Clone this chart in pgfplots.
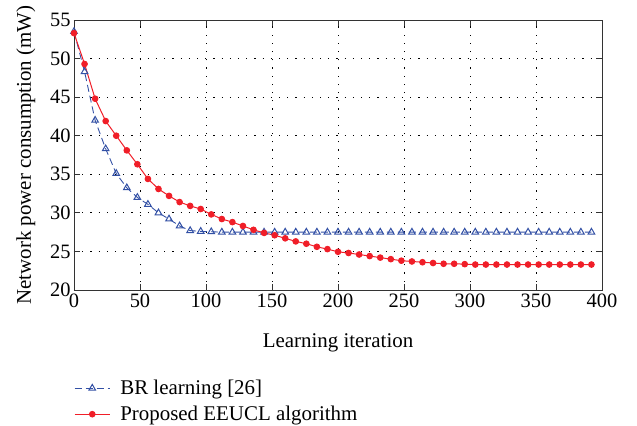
\documentclass[border=0pt]{standalone}
\usepackage{fontspec}
\setmainfont{LiberationSerif}[Extension=.ttf, UprightFont=*-Regular, BoldFont=*-Bold, ItalicFont=*-Italic]
\newfontfamily\tickfont{LiberationSerif}[Extension=.ttf, UprightFont=*-Regular]
\usepackage{pgfplots}
\pgfplotsset{compat=1.18}
\definecolor{brblue}{RGB}{50,80,165}
\definecolor{eered}{RGB}{240,30,40}
\begin{document}
\begin{tikzpicture}[x=1bp,y=1bp]
\begin{axis}[
  at={(0bp,0bp)}, anchor=south west,
  width=528bp, height=270bp, scale only axis,
  xmin=0, xmax=400, ymin=20, ymax=55,
  xtick={0,50,100,150,200,250,300,350,400}, ytick={20,25,30,35,40,45,50,55},
  xticklabels={0,50,100,150,200,250,300,350,400},
  yticklabels={20,25,30,35,40,45,50,55},
  tick align=inside, tick pos=both,
  major tick length=6bp,
  grid=major,
  grid style={black, line width=1pt, dash pattern=on 1.2bp off 7bp},
  axis line style={black!80, line width=0.8pt},
  every tick/.style={black!80, line width=0.8pt},
  xticklabel style={font=\tickfont\fontsize{20.5}{23}\selectfont},
  yticklabel style={font=\tickfont\fontsize{20.5}{23}\selectfont},
  xlabel={Learning iteration},
  ylabel={Network power consumption (mW)},
  label style={font=\fontsize{21}{24}\selectfont},
  xlabel style={yshift=-20bp},
  ylabel style={yshift=8bp},
  legend style={at={(0,0)}, anchor=north west, yshift=-86bp, xshift=-3bp,
    draw=none, fill=none, font=\fontsize{21}{24}\selectfont,
    row sep=6bp, cells={anchor=west}},
  legend cell align=left,
  legend image code/.code={\draw[mark repeat=2,mark phase=2] plot coordinates {(0cm,0cm) (0.62cm,0cm) (1.24cm,0cm)};\path (1.24cm+8bp,0cm);},
]
\addplot[brblue, line width=0.9pt, dash pattern=on 7bp off 4bp,
  mark=triangle, mark size=3.8bp, mark options={solid, line width=1pt}] coordinates {
(0,53.5) (8,48.3) (16,42.0) (24,38.3) (32,35.1) (40,33.25) (48,32.0) (56,31.1)
(64,30.0) (72,29.2) (80,28.3) (88,27.7) (96,27.6) (104,27.55) (112,27.5) (120,27.5)
(128,27.5) (136,27.5) (144,27.5) (152,27.5) (160,27.5) (168,27.5) (176,27.5) (184,27.5)
(192,27.5) (200,27.5) (208,27.5) (216,27.5) (224,27.5) (232,27.5) (240,27.5) (248,27.5)
(256,27.5) (264,27.5) (272,27.5) (280,27.5) (288,27.5) (296,27.5) (304,27.5) (312,27.5)
(320,27.5) (328,27.5) (336,27.5) (344,27.5) (352,27.5) (360,27.5) (368,27.5) (376,27.5)
(384,27.5) (392,27.5)
};
\addlegendentry{BR learning [26]}
\addplot[eered, line width=1pt, mark=*, mark size=2.8bp] coordinates {
(0,53.3) (8,49.3) (16,44.8) (24,41.9) (32,40.0) (40,38.1) (48,36.3) (56,34.4)
(64,33.1) (72,32.2) (80,31.4) (88,30.9) (96,30.5) (104,29.8) (112,29.2) (120,28.8)
(128,28.3) (136,27.8) (144,27.4) (152,27.1) (160,26.7) (168,26.3) (176,26.0) (184,25.6)
(192,25.3) (200,24.95) (208,24.8) (216,24.6) (224,24.4) (232,24.2) (240,24.0) (248,23.8)
(256,23.7) (264,23.6) (272,23.5) (280,23.4) (288,23.4) (296,23.35) (304,23.3) (312,23.3)
(320,23.3) (328,23.3) (336,23.3) (344,23.3) (352,23.3) (360,23.3) (368,23.3) (376,23.3)
(384,23.3) (392,23.3)
};
\addlegendentry{Proposed EEUCL algorithm}
\end{axis}
\pgfresetboundingbox
\path[use as bounding box] (-74bp,-136bp) rectangle (563bp,290bp);
\end{tikzpicture}
\end{document}
